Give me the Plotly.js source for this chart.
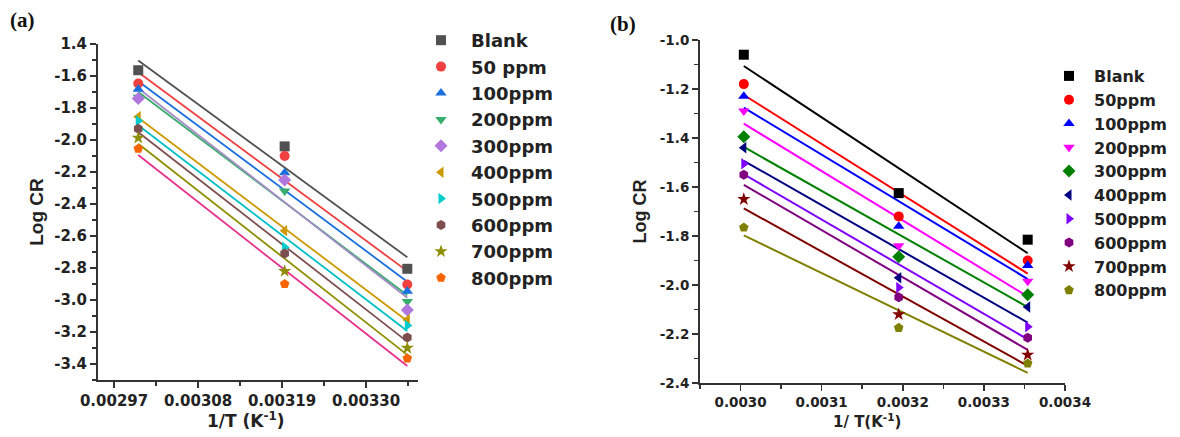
<!DOCTYPE html>
<html>
<head>
<meta charset="utf-8">
<script src="https://cdn.plot.ly/plotly-3.0.1.min.js"></script>
<style>html,body{margin:0;padding:0;background:#fff;}#chart{width:1180px;height:437px;}</style>
</head>
<body>
<div id="chart"></div>
<script>
// ---------- data ----------
const seriesNames = ["Blank", "50 ppm", "100ppm", "200ppm", "300ppm", "400ppm", "500ppm", "600ppm", "700ppm", "800ppm"];
const seriesNamesB = ["Blank", "50ppm", "100ppm", "200ppm", "300ppm", "400ppm", "500ppm", "600ppm", "700ppm", "800ppm"];

// panel (a): 1/T (K^-1)
const xA = [0.0030017, 0.0031934, 0.003354];
const blankA  = [-1.564, -2.040, -2.805];
const ppm50A  = [-1.647, -2.100, -2.903];
const ppm100A = [-1.683, -2.205, -2.945];
const ppm200A = [-1.733, -2.318, -3.010];
const ppm300A = [-1.740, -2.250, -3.062];
const ppm400A = [-1.855, -2.567, -3.124];
const ppm500A = [-1.880, -2.670, -3.160];
const ppm600A = [-1.930, -2.710, -3.235];
const ppm700A = [-1.987, -2.820, -3.300];
const ppm800A = [-2.054, -2.900, -3.365];

// panel (b)
const xB = [0.003004, 0.003195, 0.003354];
const blankB  = [-1.060, -1.625, -1.815];
const ppm50B  = [-1.180, -1.720, -1.900];
const ppm100B = [-1.230, -1.760, -1.920];
const ppm200B = [-1.290, -1.840, -1.985];
const ppm300B = [-1.395, -1.885, -2.040];
const ppm400B = [-1.440, -1.970, -2.090];
const ppm500B = [-1.505, -2.010, -2.170];
const ppm600B = [-1.550, -2.050, -2.215];
const ppm700B = [-1.650, -2.120, -2.285];
const ppm800B = [-1.765, -2.175, -2.320];

// tick labels
const yTickValsA = [-3.4, -3.2, -3.0, -2.8, -2.6, -2.4, -2.2, -2.0, -1.8, -1.6, -1.4];
const yTickTextA = ["-3.4", "-3.2", "-3.0", "-2.8", "-2.6", "-2.4", "-2.2", "-2.0", "-1.8", "-1.6", "1.4"];
const xTickValsA = [0.00297, 0.00308, 0.00319, 0.00330];
const xTickTextA = ["0.00297", "0.00308", "0.00319", "0.00330"];
const yTickValsB = [-2.4, -2.2, -2.0, -1.8, -1.6, -1.4, -1.2, -1.0];
const yTickTextB = ["-2.4", "-2.2", "-2.0", "-1.8", "-1.6", "-1.4", "-1.2", "-1.0"];
const xTickValsB = [0.0030, 0.0031, 0.0032, 0.0033, 0.0034];
const xTickTextB = ["0.0030", "0.0031", "0.0032", "0.0033", "0.0034"];

// ---------- styles ----------
const dataA = [blankA, ppm50A, ppm100A, ppm200A, ppm300A, ppm400A, ppm500A, ppm600A, ppm700A, ppm800A];
const dataB = [blankB, ppm50B, ppm100B, ppm200B, ppm300B, ppm400B, ppm500B, ppm600B, ppm700B, ppm800B];
const symbols = ["square", "circle", "triangle-up", "triangle-down", "diamond", "triangle-left", "triangle-right", "hexagon", "star", "pentagon"];
const markerColA = ["#515151", "#F14040", "#1A6FDF", "#37AD6B", "#B177DE", "#CC9900", "#00CBCC", "#7D4E4E", "#8E8E00", "#FB6501"];
const lineColA   = ["#515151", "#F14040", "#1A6FDF", "#37AD6B", "#A68CC8", "#CC9900", "#00C0C6", "#7D4E4E", "#8E8E00", "#E8318A"];
const colB = ["#000000", "#FF0000", "#0000FF", "#FF00FF", "#008000", "#000080", "#8000FF", "#800080", "#800000", "#808000"];

function fit(xs, ys) {
  const n = xs.length;
  const mx = xs.reduce((a, b) => a + b, 0) / n;
  const my = ys.reduce((a, b) => a + b, 0) / n;
  let sxy = 0, sxx = 0;
  for (let i = 0; i < n; i++) { sxy += (xs[i] - mx) * (ys[i] - my); sxx += (xs[i] - mx) ** 2; }
  const k = sxy / sxx;
  const x0 = Math.min(...xs), x1 = Math.max(...xs);
  return { x: [x0, x1], y: [my + k * (x0 - mx), my + k * (x1 - mx)] };
}

const traces = [];
dataA.forEach((ys, i) => {
  const f = fit(xA, ys);
  traces.push({ x: f.x, y: f.y, mode: "lines", xaxis: "x", yaxis: "y", showlegend: false, hoverinfo: "skip",
    line: { color: lineColA[i], width: 1.8 } });
});
dataB.forEach((ys, i) => {
  const f = fit(xB, ys);
  traces.push({ x: f.x, y: f.y, mode: "lines", xaxis: "x2", yaxis: "y2", showlegend: false, hoverinfo: "skip",
    line: { color: colB[i], width: 2 } });
});
dataA.forEach((ys, i) => {
  traces.push({ x: xA, y: ys, mode: "markers", name: seriesNames[i], xaxis: "x", yaxis: "y", legend: "legend",
    marker: { symbol: symbols[i], color: markerColA[i], size: 10 } });
});
dataB.forEach((ys, i) => {
  traces.push({ x: xB, y: ys, mode: "markers", name: seriesNamesB[i], xaxis: "x2", yaxis: "y2", legend: "legend2",
    marker: { symbol: symbols[i], color: colB[i], size: 10 } });
});

const W = 1180, H = 437;
const FF = "DejaVu Sans, Verdana, sans-serif";
const FT = "Liberation Sans, Arial, sans-serif";
const tickFontA = { family: FF, size: 15, color: "#222", weight: "bold" };
const tickFontB = { family: FF, size: 13.5, color: "#222", weight: "bold" };

const layout = {
  width: W, height: H,
  margin: { l: 0, r: 0, t: 0, b: 0 },
  paper_bgcolor: "#fff", plot_bgcolor: "#fff",
  font: { family: FF },
  xaxis: {
    domain: [98 / W, 418 / W], anchor: "y", range: [0.002949, 0.003368],
    tickmode: "array", tickvals: xTickValsA, ticktext: xTickTextA,
    ticks: "outside", ticklen: 6, tickwidth: 1.5, tickcolor: "#333",
    minor: { tickmode: "linear", tick0: 0.00297, dtick: 0.000055, ticks: "outside", ticklen: 4, tickwidth: 1.5, tickcolor: "#333", showgrid: false },
    showline: true, linecolor: "#333", linewidth: 2, showgrid: false, zeroline: false,
    tickfont: tickFontA
  },
  yaxis: {
    domain: [1 - 380 / H, 1 - 44 / H], anchor: "x", range: [-3.5, -1.4],
    tickmode: "array", tickvals: yTickValsA, ticktext: yTickTextA,
    ticks: "outside", ticklen: 6, tickwidth: 1.5, tickcolor: "#333",
    minor: { tickmode: "linear", tick0: -3.5, dtick: 0.1, ticks: "outside", ticklen: 4, tickwidth: 1.5, tickcolor: "#333", showgrid: false },
    showline: true, linecolor: "#333", linewidth: 2, showgrid: false, zeroline: false,
    tickfont: tickFontA,
    title: { text: "Log CR", font: { family: FT, size: 19, color: "#222", weight: "bold" }, standoff: 6 }
  },
  xaxis2: {
    domain: [700 / W, 1065 / W], anchor: "y2", range: [0.00295, 0.0034],
    tickmode: "array", tickvals: xTickValsB, ticktext: xTickTextB,
    ticks: "outside", ticklen: 6, tickwidth: 1.5, tickcolor: "#333",
    minor: { tickmode: "linear", tick0: 0.00295, dtick: 0.00005, ticks: "outside", ticklen: 4, tickwidth: 1.5, tickcolor: "#333", showgrid: false },
    showline: true, linecolor: "#333", linewidth: 2, showgrid: false, zeroline: false,
    tickfont: tickFontB
  },
  yaxis2: {
    domain: [1 - 383 / H, 1 - 40 / H], anchor: "x2", range: [-2.4, -1.0],
    tickmode: "array", tickvals: yTickValsB, ticktext: yTickTextB,
    ticks: "outside", ticklen: 6, tickwidth: 1.5, tickcolor: "#333",
    minor: { tickmode: "linear", tick0: -2.4, dtick: 0.1, ticks: "outside", ticklen: 4, tickwidth: 1.5, tickcolor: "#333", showgrid: false },
    showline: true, linecolor: "#333", linewidth: 2, showgrid: false, zeroline: false,
    tickfont: tickFontB,
    title: { text: "Log CR", font: { family: FT, size: 18, color: "#222", weight: "bold" }, standoff: 8 }
  },
  legend: {
    x: 411 / W, y: 1 - 22 / H, xanchor: "left", yanchor: "top", itemwidth: 50,
    bgcolor: "rgba(0,0,0,0)", borderwidth: 0, tracegroupgap: 0,
    font: { family: FF, size: 18, color: "#222", weight: "bold" }
  },
  legend2: {
    x: 1044 / W, y: 1 - 59 / H, xanchor: "left", yanchor: "top", itemwidth: 40,
    bgcolor: "rgba(0,0,0,0)", borderwidth: 0, tracegroupgap: 0,
    font: { family: FF, size: 16, color: "#222", weight: "bold" }
  },
  annotations: [
    { text: "(a)", xref: "paper", yref: "paper", x: 8 / W, y: 1 - 6 / H, xanchor: "left", yanchor: "top", showarrow: false,
      font: { family: "Liberation Serif, Times New Roman, serif", size: 21, color: "#111", weight: "bold" } },
    { text: "(b)", xref: "paper", yref: "paper", x: 608 / W, y: 1 - 10 / H, xanchor: "left", yanchor: "top", showarrow: false,
      font: { family: "Liberation Serif, Times New Roman, serif", size: 21, color: "#111", weight: "bold" } },
    { text: "1/T (K<sup>-1</sup>)", xref: "paper", yref: "paper", x: 246 / W, y: 1 - 420 / H, xanchor: "center", yanchor: "middle", showarrow: false,
      font: { family: FF, size: 17, color: "#222", weight: "bold" } },
    { text: "1/ T(K<sup>-1</sup>)", xref: "paper", yref: "paper", x: 867 / W, y: 1 - 421 / H, xanchor: "center", yanchor: "middle", showarrow: false,
      font: { family: FF, size: 15, color: "#222", weight: "bold" } }
  ]
};

Plotly.newPlot("chart", traces, layout, { displayModeBar: false, staticPlot: true });
</script>
</body>
</html>
